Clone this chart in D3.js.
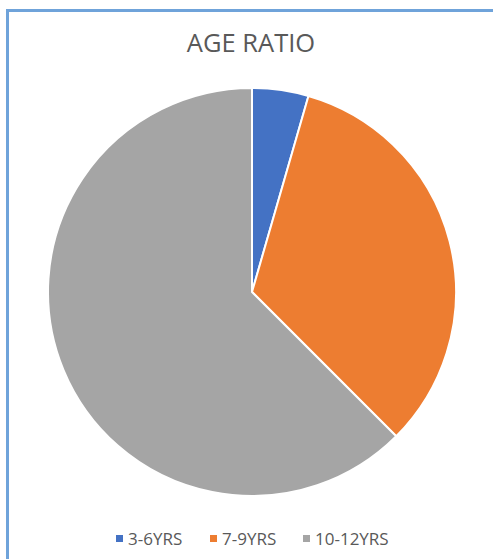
<!DOCTYPE html>
<html><head><meta charset="utf-8">
<script src="https://cdn.jsdelivr.net/npm/d3@7"></script>
<style>html,body{margin:0;padding:0;background:#fff;}</style>
</head><body>
<svg id="c" width="493" height="559"></svg>
<script>
const categories = ["3-6YRS", "7-9YRS", "10-12YRS"];
const values = [5, 37, 70];
const colors = ["#4472C4", "#ED7D31", "#A5A5A5"];
const title = "AGE RATIO";

const svg = d3.select("#c");
svg.append("rect").attr("x", 7.5).attr("y", 10.5).attr("width", 500).attr("height", 600)
  .attr("fill", "#fff").attr("stroke", "#6FA3DA").attr("stroke-width", 3);

svg.append("text").attr("x", 251).attr("y", 52).attr("text-anchor", "middle")
  .attr("font-family", "Open Sans, sans-serif").attr("font-size", 25.5).attr("fill", "#595959")
  .text(title);

const data = categories.map((c, i) => ({ c, v: values[i], col: colors[i] }));
const pie = d3.pie().value(d => d.v).sort(null);
const arc = d3.arc().innerRadius(0).outerRadius(204);
const g = svg.append("g").attr("transform", "translate(252,292)");
g.selectAll("path").data(pie(data)).join("path")
  .attr("d", arc).attr("fill", d => d.data.col)
  .attr("stroke", "#fff").attr("stroke-width", 2).attr("stroke-linejoin", "round");

const legX = [116, 210, 303];
const leg = svg.append("g");
data.forEach((d, i) => {
  leg.append("rect").attr("x", legX[i]).attr("y", 535).attr("width", 7).attr("height", 7).attr("fill", d.col);
  leg.append("text").attr("x", legX[i] + 12).attr("y", 545)
    .attr("font-family", "Open Sans, sans-serif").attr("font-size", 17).attr("fill", "#595959")
    .text(d.c);
});
</script>
</body></html>
